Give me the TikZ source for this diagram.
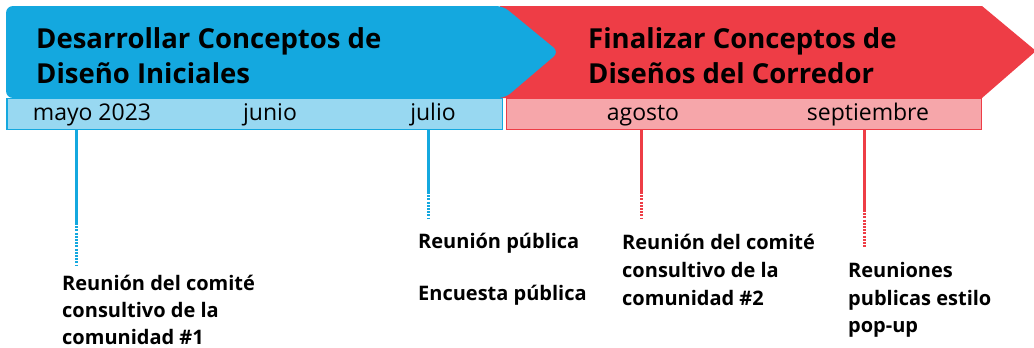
\documentclass[tikz,border=0pt]{standalone}
\usepackage{fontspec}
\setmainfont{Open Sans}
\definecolor{cblue}{HTML}{14A8DF}
\definecolor{clblue}{HTML}{98D8F1}
\definecolor{cred}{HTML}{EE3D46}
\definecolor{clred}{HTML}{F6A6AA}
\tikzset{
  title/.style={anchor=base west,inner sep=0pt,font=\fontsize{27.5}{30}\selectfont\bfseries},
  month/.style={anchor=base,inner sep=0pt,font=\fontsize{23}{26}\selectfont},
  lbl/.style={anchor=base west,inner sep=0pt,font=\fontsize{20}{22}\selectfont\bfseries},
  bconn/.style={draw=cblue,line width=3pt},
  rconn/.style={draw=cred,line width=3pt},
  dashpart/.style={dash pattern=on 2pt off 1.2pt}
}
\begin{document}
\begin{tikzpicture}[x=1pt,y=-1pt]
\useasboundingbox (0,0) rectangle (1034,348);
% banners
\fill[cred] (500,6) -- (982,6) -- (1036,51) -- (982,98) -- (500,98) -- cycle;
\fill[cblue,rounded corners=7pt] (6,6) -- (503,6) -- (559,52) -- (505,98) -- (6,98) -- cycle;
\draw[cblue,fill=clblue,line width=1.5pt] (6.75,98.5) rectangle (502.5,129.5);
\draw[cred,fill=clred,line width=1.5pt] (506.5,98.5) rectangle (981.5,129.5);
% titles
\node[title] (t1a) at (36,48) {Desarrollar Conceptos de};
\node[title] (t1b) at (36,83) {Diseño Iniciales};
\node[title] (t2a) at (588,48) {Finalizar Conceptos de};
\node[title] (t2b) at (588,83) {Diseños del Corredor};
% months
\node[month] (m1) at (92,120) {mayo 2023};
\node[month] (m2) at (270,120) {junio};
\node[month] (m3) at (433,120) {julio};
\node[month] (m4) at (643,120) {agosto};
\node[month] (m5) at (868,120) {septiembre};
% connector coordinates
\coordinate (a0) at (76,130); \coordinate (a1) at (76,223); \coordinate (a2) at (76,265);
\coordinate (b0) at (428,130); \coordinate (b1) at (428,192); \coordinate (b2) at (428,218);
\coordinate (c0) at (641,130); \coordinate (c1) at (641,192); \coordinate (c2) at (641,218);
\coordinate (d0) at (864,130); \coordinate (d1) at (864,210); \coordinate (d2) at (864,247);
\draw[bconn] (a0) -- (a1); \draw[bconn,dashpart] (a1) -- (a2);
\draw[bconn] (b0) -- (b1); \draw[bconn,dashpart] (b1) -- (b2);
\draw[rconn] (c0) -- (c1); \draw[rconn,dashpart] (c1) -- (c2);
\draw[rconn] (d0) -- (d1); \draw[rconn,dashpart] (d1) -- (d2);
% labels
\node[lbl] (l1a) at (62,290) {Reunión del comité};
\node[lbl] (l1b) at (62,317) {consultivo de la};
\node[lbl] (l1c) at (62,344) {comunidad \#1};
\node[lbl] (l2a) at (418,248) {Reunión pública};
\node[lbl] (l2b) at (418,300) {Encuesta pública};
\node[lbl] (l3a) at (622,249) {Reunión del comité};
\node[lbl] (l3b) at (622,277) {consultivo de la};
\node[lbl] (l3c) at (622,305) {comunidad \#2};
\node[lbl] (l4a) at (848,277) {Reuniones};
\node[lbl] (l4b) at (848,305) {publicas estilo};
\node[lbl] (l4c) at (848,332) {pop-up};
\end{tikzpicture}
\end{document}
